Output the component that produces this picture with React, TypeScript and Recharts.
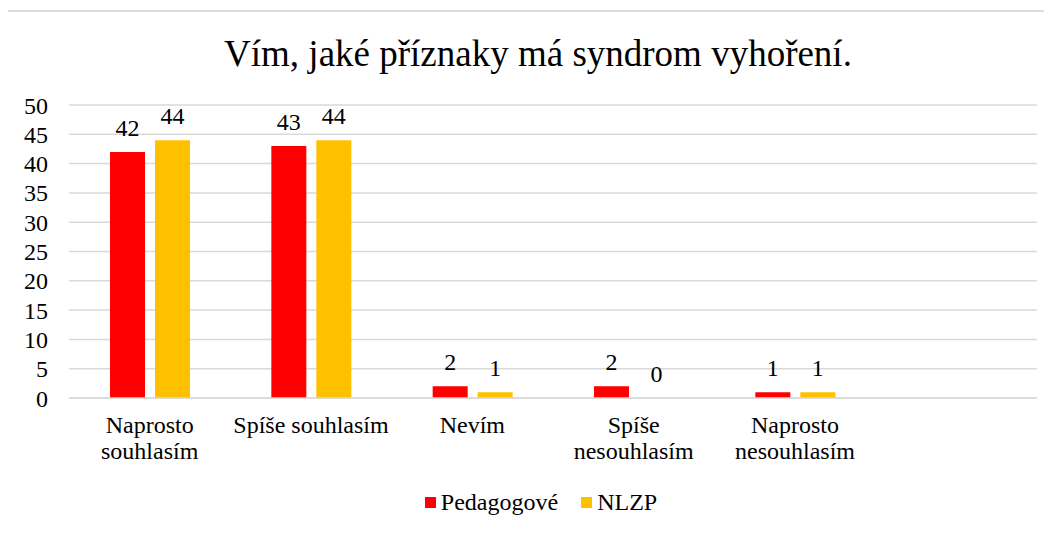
import { BarChart, Bar, XAxis, YAxis, CartesianGrid, LabelList, Legend } from "recharts";

const categories = ["Naprosto souhlasím", "Spíše souhlasím", "Nevím", "Spíše nesouhlasím", "Naprosto nesouhlasím", ""];
const pedagogove = [42, 43, 2, 2, 1, null];
const nlzp = [44, 44, 1, 0, 1, null];
const yTicks = [0, 5, 10, 15, 20, 25, 30, 35, 40, 45, 50];

const data = categories.map((name, i) => ({ name, pedagogove: pedagogove[i], nlzp: nlzp[i] }));

const serif = '"Liberation Serif", "Times New Roman", Tinos, "Noto Serif", "DejaVu Serif", FreeSerif, Times, serif';
const RED = "#ff0000";
const YELLOW = "#ffc000";
const GRID = "#d9d9d9";

function wrap(label: string): string[] {
  if (label.length <= 16) return [label];
  const i = label.indexOf(" ");
  return [label.slice(0, i), label.slice(i + 1)];
}

function CategoryTick({ x, y, payload }: any) {
  const lines = wrap(String(payload.value));
  return (
    <text x={x} y={y} textAnchor="middle" fill="#000" fontFamily={serif} fontSize={24}>
      {lines.map((l, i) => (
        <tspan key={i} x={x} y={y + 35 + i * 26}>
          {l}
        </tspan>
      ))}
    </text>
  );
}

// value label above each bar, also for zero-height bars
function ValueLabel({ x, y, width, value }: any) {
  if (value === null || value === undefined) return null;
  return (
    <text x={x + width / 2} y={y - 16} textAnchor="middle" fill="#000" fontFamily={serif} fontSize={24}>
      {value}
    </text>
  );
}

function LegendContent() {
  const items = [
    { label: "Pedagogové", color: RED },
    { label: "NLZP", color: YELLOW },
  ];
  return (
    <div style={{ display: "flex", justifyContent: "center", paddingLeft: 68, fontFamily: serif, fontSize: 24 }}>
      {items.map((it) => (
        <div key={it.label} style={{ display: "flex", alignItems: "center", marginRight: 23 }}>
          <span style={{ width: 11, height: 11, background: it.color, marginRight: 5, display: "inline-block" }} />
          <span style={{ color: "#000" }}>{it.label}</span>
        </div>
      ))}
    </div>
  );
}

export default function App() {
  return (
    <div style={{ position: "relative", margin: -8, width: 1052, height: 533, overflow: "hidden", background: "#fff" }}>
      <div
        style={{
          position: "absolute",
          left: 6,
          top: 10,
          width: 1100,
          height: 600,
          borderTop: "2px solid #dedede",
          borderLeft: "2px solid #dedede",
        }}
      />
      <div
        style={{
          position: "absolute",
          left: 0,
          width: 1076,
          top: 32,
          textAlign: "center",
          fontFamily: serif,
          fontSize: 37,
          lineHeight: "44px",
          color: "#000",
        }}
      >
        Vím, jaké příznaky má syndrom vyhoření.
      </div>
      <BarChart
        width={1052}
        height={533}
        data={data}
        margin={{ top: 105, right: 15, left: 0, bottom: 4 }}
        barSize={35}
        barGap={10}
        style={{ position: "absolute", left: 0, top: 0 }}
      >
        <CartesianGrid vertical={false} stroke={GRID} strokeWidth={1.5} />
        <XAxis
          dataKey="name"
          height={91}
          tickLine={false}
          tickSize={0}
          tickMargin={0}
          axisLine={{ stroke: GRID, strokeWidth: 1.5 }}
          tick={<CategoryTick />}
          interval={0}
        />
        <YAxis
          domain={[0, 50]}
          ticks={yTicks}
          interval={0}
          width={69}
          axisLine={false}
          tickLine={false}
          tickSize={0}
          tickMargin={21}
          tick={{ fill: "#000", fontSize: 24, fontFamily: serif }}
        />
        <Legend verticalAlign="bottom" height={40} content={<LegendContent />} />
        <Bar dataKey="pedagogove" name="Pedagogové" fill={RED} minPointSize={0.01} isAnimationActive={false}>
          <LabelList dataKey="pedagogove" content={<ValueLabel />} />
        </Bar>
        <Bar dataKey="nlzp" name="NLZP" fill={YELLOW} minPointSize={0.01} isAnimationActive={false}>
          <LabelList dataKey="nlzp" content={<ValueLabel />} />
        </Bar>
      </BarChart>
    </div>
  );
}
